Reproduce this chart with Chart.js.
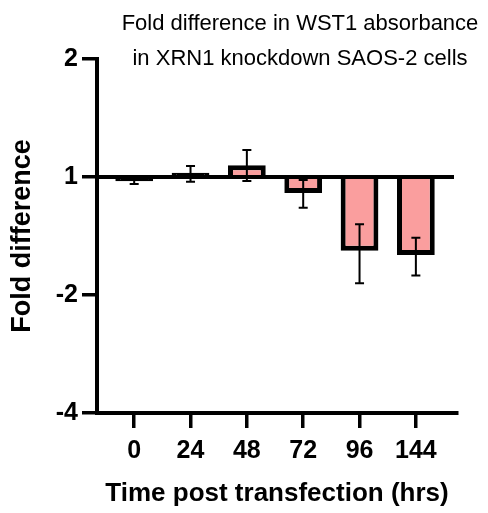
<!DOCTYPE html>
<html>
<head>
<meta charset="utf-8">
<script src="https://cdn.jsdelivr.net/npm/chart.js@4.4.1/dist/chart.umd.min.js"></script>
<style>
  html, body { margin: 0; padding: 0; background: #fff; }
  canvas { display: block; }
</style>
</head>
<body>
<canvas id="c" width="488" height="513"></canvas>
<script>
// ---- Data (y values are log2 of fold difference) ----
const categories = ['0', '24', '48', '72', '96', '144'];      // hours post transfection
const meanLog2   = [-0.035, 0.035, 0.10, -0.135, -0.625, -0.66];
const errUpperLog2 = [0.0, 0.093, 0.228, -0.025, -0.40, -0.515];
const errLowerLog2 = [-0.06, -0.04, -0.034, -0.26, -0.90, -0.835];
const yTickValues = [-2, -1, 0, 1];                            // shown as -4, -2, 1, 2
const baselineLog2 = 0;                                        // fold difference of 1
const titleLines = ['Fold difference in WST1 absorbance', 'in XRN1 knockdown SAOS-2 cells'];

const FONT = '"Liberation Sans", Arial, sans-serif';
const BAR_FILL = '#FA9E9E';
const BAR_BORDER = 5;

function foldLabel(v) {
  return v >= 0 ? String(Math.pow(2, v)) : String(-Math.pow(2, -v));
}

// A bar thinner than its (centred) outline shows no fill in the reference
function barFill(ctx) {
  const ys = ctx.chart.scales && ctx.chart.scales.y;
  if (!ys || !ctx.parsed) return BAR_FILL;
  const h = Math.abs(ys.getPixelForValue(ctx.parsed.y) - ys.getPixelForValue(baselineLog2));
  return h < BAR_BORDER + 1 ? '#000' : BAR_FILL;
}

const overlayPlugin = {
  id: 'baselineAndErrorBars',
  afterDatasetsDraw(chart) {
    const ctx = chart.ctx;
    const xs = chart.scales.x, ys = chart.scales.y;
    const area = chart.chartArea;
    ctx.save();
    const yb0 = ys.getPixelForValue(baselineLog2);
    ctx.strokeStyle = '#000';
    ctx.lineWidth = 4;
    ctx.beginPath();
    ctx.moveTo(area.left, yb0);
    ctx.lineTo(area.right - 3, yb0);
    ctx.stroke();
    ctx.lineWidth = 2;
    categories.forEach((c, i) => {
      const x = xs.getPixelForValue(i);
      const yt = ys.getPixelForValue(errUpperLog2[i]);
      const yb = ys.getPixelForValue(errLowerLog2[i]);
      ctx.beginPath();
      ctx.moveTo(x, yt); ctx.lineTo(x, yb);
      ctx.moveTo(x - 4.5, yt); ctx.lineTo(x + 4.5, yt);
      ctx.moveTo(x - 4.5, yb); ctx.lineTo(x + 4.5, yb);
      ctx.stroke();
    });
    ctx.restore();
  }
};

const titlePlugin = {
  id: 'floatTitle',
  afterDraw(chart) {
    const ctx = chart.ctx;
    ctx.save();
    ctx.fillStyle = '#000';
    ctx.font = '22px ' + FONT;
    ctx.textAlign = 'center';
    ctx.textBaseline = 'alphabetic';
    ctx.fillText(titleLines[0], 300, 29.5);
    ctx.fillText(titleLines[1], 300, 65);
    ctx.restore();
  }
};

new Chart(document.getElementById('c'), {
  type: 'bar',
  data: {
    datasets: [{
      data: categories.map((c, i) => ({ x: i, y: meanLog2[i] })),
      backgroundColor: barFill,
      borderColor: '#000',
      borderWidth: BAR_BORDER,
      borderSkipped: 'start',
      barPercentage: 0.67,
      categoryPercentage: 1.0
    }]
  },
  options: {
    responsive: false,
    animation: false,
    layout: { padding: { top: 59, right: 31, left: 0, bottom: 0 } },
    plugins: {
      legend: { display: false },
      title: { display: false },
      tooltip: { enabled: false }
    },
    scales: {
      x: {
        type: 'linear',
        offset: false,
        min: -0.66,
        max: 5.73,
        afterBuildTicks(scale) {
          scale.ticks = categories.map((c, i) => ({ value: i }));
        },
        afterFit(scale) { scale.height = 100; },
        ticks: {
          autoSkip: false,
          maxRotation: 0,
          color: '#000',
          padding: 8,
          font: { family: FONT, size: 25, weight: 'bold' },
          callback: (v) => categories[v]
        },
        grid: {
          offset: false,
          drawOnChartArea: false,
          color: '#000',
          tickColor: '#000',
          tickLength: 15,
          tickWidth: 3.5,
          lineWidth: 3.5
        },
        border: { display: true, color: '#000', width: 4 },
        title: {
          display: true,
          text: 'Time post transfection (hrs)',
          color: '#000',
          font: { family: FONT, size: 26, weight: 'bold' },
          padding: { top: 0, bottom: 4 }
        }
      },
      y: {
        min: -2,
        max: 1,
        afterBuildTicks(scale) {
          scale.ticks = yTickValues.map(v => ({ value: v }));
        },
        afterFit(scale) { scale.width = 97; },
        ticks: {
          color: '#000',
          padding: 4,
          font: { family: FONT, size: 25, weight: 'bold' },
          callback: (v) => foldLabel(v)
        },
        grid: {
          drawOnChartArea: false,
          color: '#000',
          lineWidth: 3.5,
          tickColor: '#000',
          tickLength: 15,
          tickWidth: 3.5
        },
        border: { display: true, color: '#000', width: 4 },
        title: {
          display: true,
          text: 'Fold difference',
          color: '#000',
          font: { family: FONT, size: 27, weight: 'bold' },
          padding: { top: 6, bottom: 0 }
        }
      }
    }
  },
  plugins: [overlayPlugin, titlePlugin]
});
</script>
</body>
</html>
